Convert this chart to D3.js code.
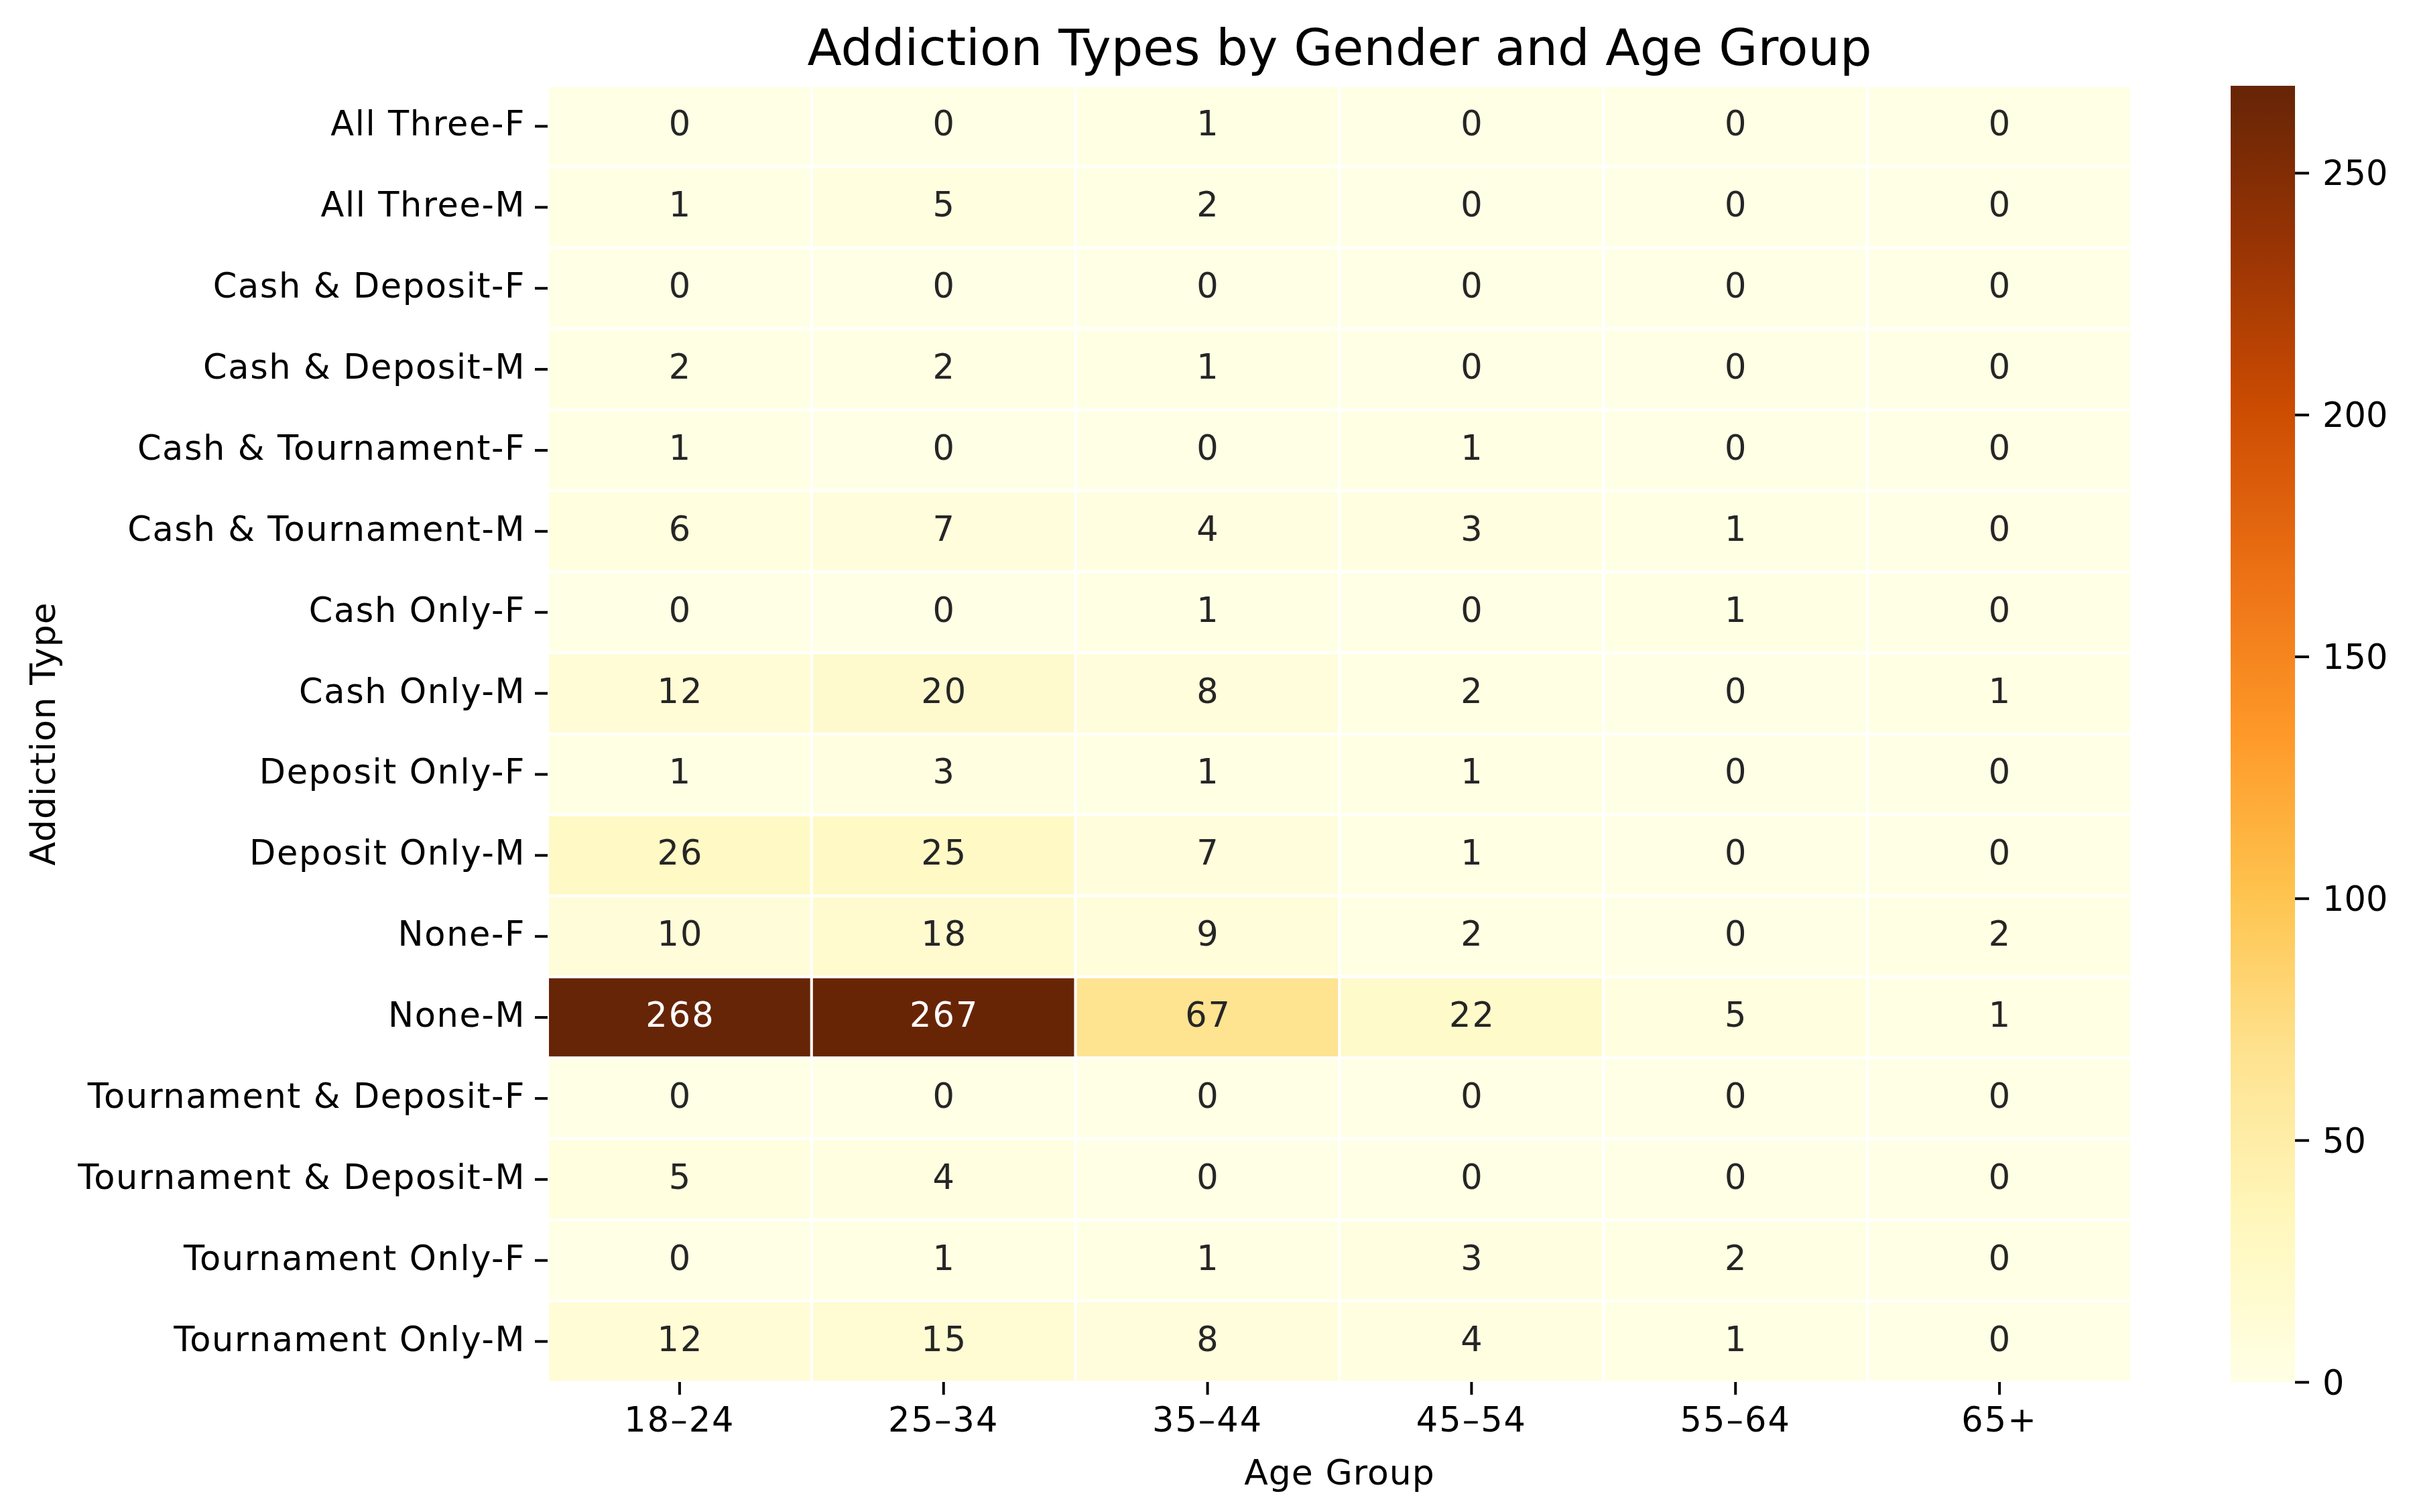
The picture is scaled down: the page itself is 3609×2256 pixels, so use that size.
<!DOCTYPE html>
<html>
<head>
<meta charset="utf-8">
<title>Addiction Types by Gender and Age Group</title>
<script src="https://cdn.jsdelivr.net/npm/d3@7"></script>
<style>
    body { margin: 0; background: #fff; }
    text { font-family: "DejaVu Sans", sans-serif; }
</style>
</head>
<body>
<div id="chart"></div>
<script>

// age groups (columns)
let ageGroups = ['18–24', '25–34', '35–44', '45–54', '55–64', '65+'];

// addiction type + gender (rows)
let addictionTypes = [
    'All Three-F', 'All Three-M',
    'Cash & Deposit-F', 'Cash & Deposit-M',
    'Cash & Tournament-F', 'Cash & Tournament-M',
    'Cash Only-F', 'Cash Only-M',
    'Deposit Only-F', 'Deposit Only-M',
    'None-F', 'None-M',
    'Tournament & Deposit-F', 'Tournament & Deposit-M',
    'Tournament Only-F', 'Tournament Only-M'
];

// counts, one row per addiction type, one value per age group
let counts = [
    [0, 0, 1, 0, 0, 0],
    [1, 5, 2, 0, 0, 0],
    [0, 0, 0, 0, 0, 0],
    [2, 2, 1, 0, 0, 0],
    [1, 0, 0, 1, 0, 0],
    [6, 7, 4, 3, 1, 0],
    [0, 0, 1, 0, 1, 0],
    [12, 20, 8, 2, 0, 1],
    [1, 3, 1, 1, 0, 0],
    [26, 25, 7, 1, 0, 0],
    [10, 18, 9, 2, 0, 2],
    [268, 267, 67, 22, 5, 1],
    [0, 0, 0, 0, 0, 0],
    [5, 4, 0, 0, 0, 0],
    [0, 1, 1, 3, 2, 0],
    [12, 15, 8, 4, 1, 0]
];

let colorbarTicks = [0, 50, 100, 150, 200, 250];

// YlOrBr colour steps
let ylOrBr = ['#ffffe5', '#fff7bc', '#fee391', '#fec44f', '#fe9929', '#ec7014', '#cc4c02', '#993404', '#662506'];


class heatmapVis {

    constructor(parentElement) {
        this.parentElement = parentElement;
        this.initVis();
    }

    initVis() {
        let vis = this;

        vis.width = 3609;
        vis.height = 2256;
        vis.left = 817;
        vis.right = 3180;
        vis.top = 128;
        vis.bottom = 2062;
        vis.fontSize = 51;
        vis.tickLength = 19;

        vis.svg = d3.select('#' + vis.parentElement).append('svg')
            .attr('width', vis.width)
            .attr('height', vis.height);

        vis.x = d3.scaleBand()
            .domain(ageGroups)
            .range([vis.left, vis.right])
            .padding(0);

        vis.y = d3.scaleBand()
            .domain(addictionTypes)
            .range([vis.top, vis.bottom])
            .padding(0);

        vis.vmax = d3.max(counts, d => d3.max(d));

        vis.color = d3.scaleLinear()
            .domain(ylOrBr.map((c, i) => i * vis.vmax / (ylOrBr.length - 1)))
            .range(ylOrBr)
            .interpolate(d3.interpolateRgb)
            .clamp(true);

        vis.wrangleData();
    }

    wrangleData() {
        let vis = this;
        vis.cells = [];
        counts.forEach(function (row, i) {
            row.forEach(function (v, j) {
                vis.cells.push({type: addictionTypes[i], age: ageGroups[j], value: v});
            });
        });
        vis.updateVis();
    }

    textColor(fill) {
        // seaborn style: dark text on light cells, white on dark ones
        let c = d3.rgb(fill);
        let lin = [c.r, c.g, c.b].map(function (v) {
            v = v / 255;
            return v <= 0.03928 ? v / 12.92 : Math.pow((v + 0.055) / 1.055, 2.4);
        });
        let lum = 0.2126 * lin[0] + 0.7152 * lin[1] + 0.0722 * lin[2];
        return lum > 0.408 ? '#262626' : '#ffffff';
    }

    updateVis() {
        let vis = this;

        // cells
        vis.svg.append('g').attr('class', 'cells')
            .selectAll('rect')
            .data(vis.cells)
            .enter()
            .append('rect')
            .attr('x', d => vis.x(d.age))
            .attr('y', d => vis.y(d.type))
            .attr('width', vis.x.bandwidth())
            .attr('height', vis.y.bandwidth())
            .attr('fill', d => vis.color(d.value))
            .attr('stroke', '#ffffff')
            .attr('stroke-width', 4);

        // annotations
        vis.svg.append('g').attr('class', 'annot')
            .selectAll('text')
            .data(vis.cells)
            .enter()
            .append('text')
            .attr('x', d => vis.x(d.age) + vis.x.bandwidth() / 2 + 1)
            .attr('y', d => vis.y(d.type) + vis.y.bandwidth() / 2 + 14)
            .attr('text-anchor', 'middle')
            .style('font-size', vis.fontSize + 'px')
            .style('letter-spacing', '2px')
            .attr('fill', d => vis.textColor(vis.color(d.value)))
            .text(d => d.value);

        // axes
        let xAxis = d3.axisBottom(vis.x).tickSize(vis.tickLength).tickPadding(10);
        let yAxis = d3.axisLeft(vis.y).tickSize(vis.tickLength).tickPadding(14);

        let gx = vis.svg.append('g')
            .attr('transform', 'translate(0,' + vis.bottom + ')')
            .call(xAxis);
        gx.select('.domain').remove();
        gx.selectAll('.tick line').attr('stroke', '#000').attr('stroke-width', 4);
        gx.selectAll('.tick text')
            .attr('dy', null)
            .attr('y', 74)
            .attr('fill', '#000')
            .style('font-size', vis.fontSize + 'px')
            .style('letter-spacing', '2px')
            .style('font-family', '"DejaVu Sans", sans-serif');

        let gy = vis.svg.append('g')
            .attr('transform', 'translate(' + vis.left + ',0)')
            .call(yAxis);
        gy.select('.domain').remove();
        gy.selectAll('.tick line').attr('stroke', '#000').attr('stroke-width', 4);
        gy.selectAll('.tick text')
            .attr('dy', null)
            .attr('y', 14)
            .attr('fill', '#000')
            .style('font-size', vis.fontSize + 'px')
            .style('letter-spacing', '1.6px')
            .style('font-family', '"DejaVu Sans", sans-serif');

        // axis labels and title
        let cx = (vis.left + vis.right) / 2;
        vis.svg.append('text')
            .attr('x', cx)
            .attr('y', 2215)
            .attr('text-anchor', 'middle')
            .style('font-size', '52px')
            .style('letter-spacing', '1px')
            .text('Age Group');

        vis.svg.append('text')
            .attr('transform', 'translate(82,' + (vis.top + vis.bottom) / 2 + ') rotate(-90)')
            .attr('text-anchor', 'middle')
            .style('font-size', '52px')
            .style('letter-spacing', '1px')
            .text('Addiction Type');

        vis.svg.append('text')
            .attr('x', cx)
            .attr('y', 97)
            .attr('text-anchor', 'middle')
            .style('font-size', '75px')
            .text('Addiction Types by Gender and Age Group');

        vis.drawColorbar();
    }

    drawColorbar() {
        let vis = this;
        let cbLeft = 3328, cbWidth = 96;

        let cbScale = d3.scaleLinear()
            .domain([0, vis.vmax])
            .range([vis.bottom, vis.top]);

        let grad = vis.svg.append('defs').append('linearGradient')
            .attr('id', 'cb-grad')
            .attr('x1', 0).attr('y1', 1)
            .attr('x2', 0).attr('y2', 0);

        grad.selectAll('stop')
            .data(d3.range(0, 101))
            .enter()
            .append('stop')
            .attr('offset', d => d + '%')
            .attr('stop-color', d => vis.color(d / 100 * vis.vmax));

        vis.svg.append('rect')
            .attr('x', cbLeft)
            .attr('y', vis.top)
            .attr('width', cbWidth)
            .attr('height', vis.bottom - vis.top)
            .attr('fill', 'url(#cb-grad)');

        let cbAxis = d3.axisRight(cbScale)
            .tickValues(colorbarTicks)
            .tickSize(21)
            .tickPadding(20);

        let gc = vis.svg.append('g')
            .attr('transform', 'translate(' + (cbLeft + cbWidth) + ',0)')
            .call(cbAxis);
        gc.select('.domain').remove();
        gc.selectAll('.tick line').attr('stroke', '#000').attr('stroke-width', 4);
        gc.selectAll('.tick text')
            .attr('dy', null)
            .attr('y', 18)
            .attr('fill', '#000')
            .style('font-size', vis.fontSize + 'px')
            .style('font-family', '"DejaVu Sans", sans-serif');
    }
}

let myHeatmap = new heatmapVis('chart');

</script>
</body>
</html>
